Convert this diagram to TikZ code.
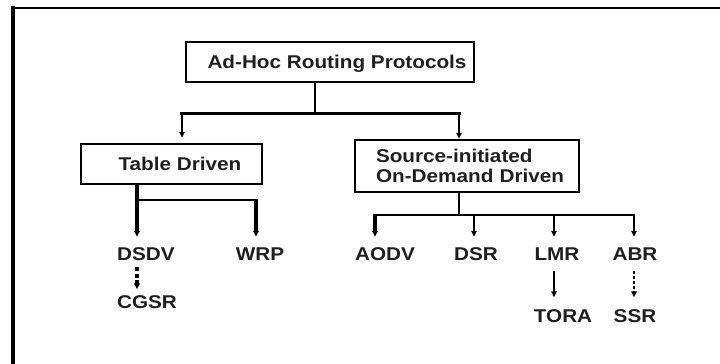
\documentclass[tikz,border=0pt]{standalone}
\usepackage{fontspec}
\setmainfont{Liberation Sans}[FakeStretch=1.12]
\usetikzlibrary{arrows.meta}

\begin{document}
\begin{tikzpicture}[x=1pt,y=-1pt,
  every node/.style={font=\fontsize{18.5}{19.5}\selectfont\bfseries, text=black!88},
  box/.style={draw, line width=2.4pt, inner sep=0pt},
  oneline/.style={text height=13.5pt, text depth=0pt},
  leaf/.style={inner sep=0pt, text height=13pt, text depth=0pt, anchor=base},
  tip/.style={-{Triangle[length=6pt,width=5.5pt]}},
  thinline/.style={line width=1.4pt},
  busline/.style={line width=2.4pt},
  heavy/.style={line width=3.2pt},
]
\useasboundingbox (0,0) rectangle (720,364);
\clip (0,0) rectangle (720,364);

% outer frame, open to the right and bottom
\draw[line width=4pt] (13,370) -- (13,6);
\draw[line width=2pt] (11,8) -- (730,8);

% boxes
\node[box, oneline, minimum width=288pt, minimum height=40pt] (root) at (330,62)
  {\hspace*{14pt}Ad-Hoc Routing Protocols};
\node[box, oneline, minimum width=181pt, minimum height=40pt] (td) at (171.5,164)
  {\hspace*{17pt}Table Driven};
\node[box, minimum width=224pt, minimum height=52pt, inner xsep=12pt,
      text width=200pt, align=left] (src) at (467,166)
  {\hspace*{9pt}Source-initiated\\\hspace*{9pt}On-Demand Driven};

% protocol names
\node[leaf] (dsdv) at (146,260.5) {DSDV};
\node[leaf] (wrp)  at (260,260.5) {WRP};
\node[leaf] (cgsr) at (147,308) {CGSR};
\node[leaf] (aodv) at (385,260.5) {AODV};
\node[leaf] (dsr)  at (476,260.5) {DSR};
\node[leaf] (lmr)  at (557,260.5) {LMR};
\node[leaf] (abr)  at (635,260.5) {ABR};
\node[leaf] (tora) at (563,322) {TORA};
\node[leaf] (ssr)  at (635,322) {SSR};

% root to the two families
\coordinate (rootout) at ([xshift=-15pt]root.south);
\coordinate (j1) at ([yshift=-30pt]rootout);
\coordinate (tdin) at ([xshift=10.5pt,yshift=5pt]td.north);
\coordinate (srcin) at ([xshift=-8pt]src.north);
\draw[thinline] (rootout) -- (j1);
\draw[heavy, line cap=rect] (tdin |- j1) -- (srcin |- j1);
\draw[thinline, tip] (tdin |- j1) -- (tdin);
\draw[thinline, tip] (srcin |- j1) -- (srcin);

% table driven branch
\coordinate (tdout) at ([xshift=-34.5pt]td.south);
\coordinate (j2) at ([yshift=-15pt]tdout);
\coordinate (dsdvin) at ([xshift=-9pt,yshift=10.5pt]dsdv.north);
\coordinate (wrpin) at ([xshift=-4pt,yshift=10.5pt]wrp.north);
\draw[heavy, tip] (tdout) -- (dsdvin);
\draw[busline, line cap=rect] (j2) -- (wrpin |- j2);
\draw[heavy, tip] ([yshift=1pt]wrpin |- j2) -- (wrpin);
\draw[heavy, dash pattern=on 4pt off 2.5pt, tip]
  ([xshift=-9pt,yshift=-6.5pt]dsdv.base) -- ([xshift=-10pt,yshift=5.5pt]cgsr.north);

% on-demand branch
\coordinate (srcout) at ([xshift=-8pt]src.south);
\coordinate (j3) at ([yshift=-22pt]srcout);
\coordinate (aodvin) at ([xshift=-10pt,yshift=10.5pt]aodv.north);
\coordinate (dsrin) at ([xshift=-2pt,yshift=10.5pt]dsr.north);
\coordinate (lmrin) at ([xshift=-3pt,yshift=10.5pt]lmr.north);
\coordinate (abrin) at ([xshift=-1pt,yshift=10.5pt]abr.north);
\draw[thinline] (srcout) -- (j3);
\draw[busline, line cap=rect] (aodvin |- j3) -- (abrin |- j3);
\draw[heavy, tip] ([yshift=1pt]aodvin |- j3) -- (aodvin);
\draw[thinline, tip] (dsrin |- j3) -- (dsrin);
\draw[thinline, tip] (lmrin |- j3) -- (lmrin);
\draw[thinline, tip] (abrin |- j3) -- (abrin);
\draw[thinline, tip]
  ([xshift=-3pt,yshift=-10.5pt]lmr.base) -- ([xshift=-9pt,yshift=11.5pt]tora.north);
\draw[thinline, dash pattern=on 3pt off 2pt, tip]
  ([xshift=-1pt,yshift=-10.5pt]abr.base) -- ([xshift=-1pt,yshift=11.5pt]ssr.north);
\end{tikzpicture}
\end{document}
